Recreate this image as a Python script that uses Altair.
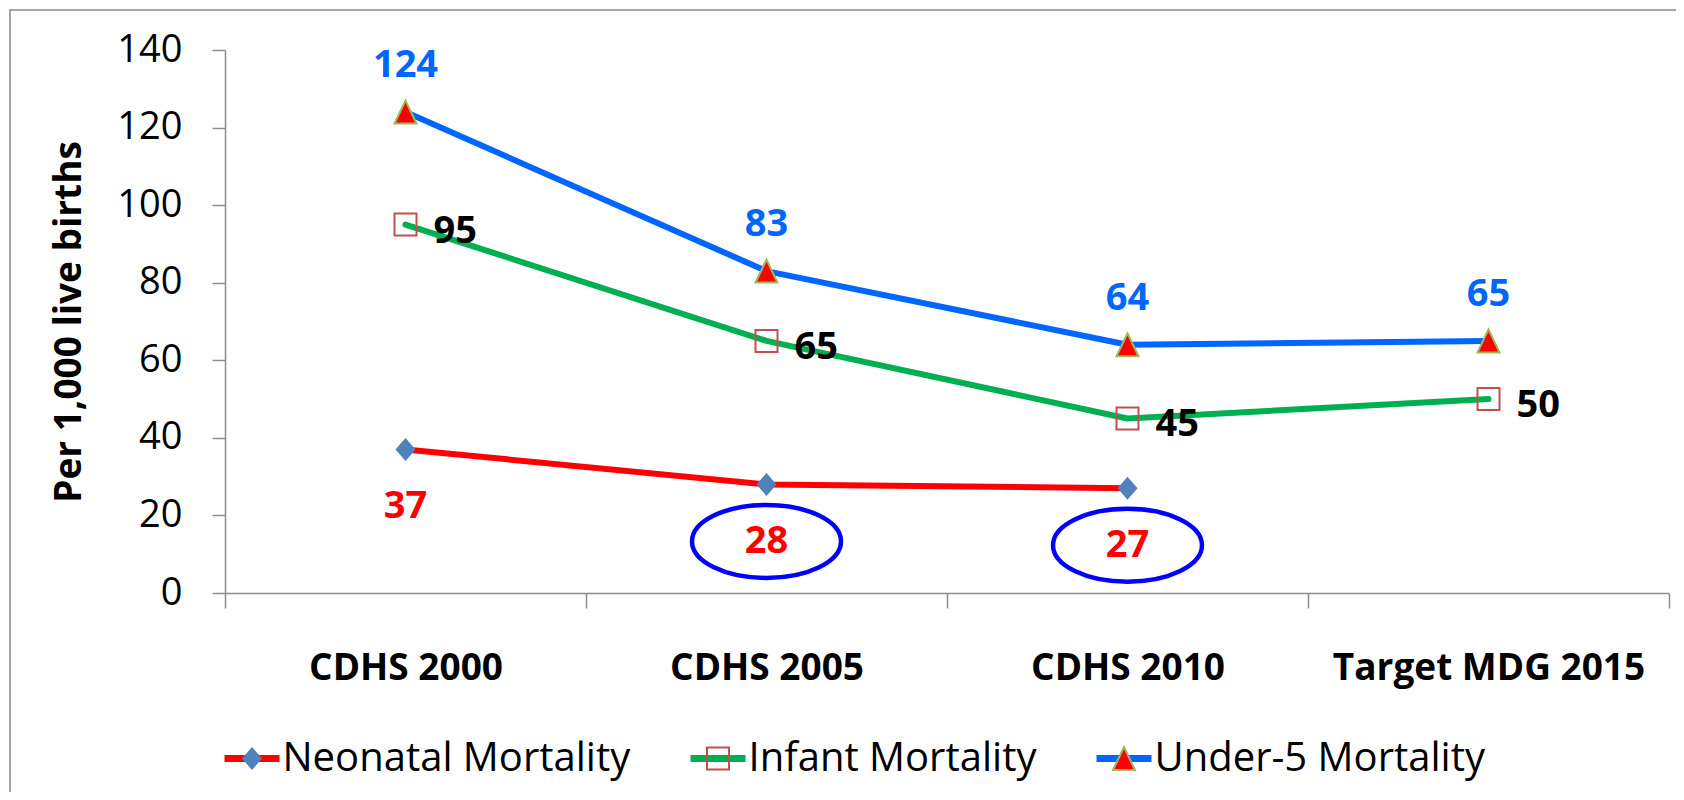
import altair as alt
import pandas as pd

surveys = ["CDHS 2000", "CDHS 2005", "CDHS 2010", "Target MDG 2015"]
series_names = ["Neonatal Mortality", "Infant Mortality", "Under-5 Mortality"]
neonatal = [37, 28, 27, None]
infant = [95, 65, 45, 50]
under5 = [124, 83, 64, 65]
highlighted = ["CDHS 2005", "CDHS 2010"]
y_ticks = [0, 20, 40, 60, 80, 100, 120, 140]

line_colors = ["#FF0000", "#00B050", "#0066FF"]
marker_fill = ["#4F81BD", "transparent", "#FF0000"]
marker_stroke = ["transparent", "#C0504D", "#9BBB59"]

# every symbol path shares the same invisible bounding box so both legends lay out identically
BOX = "M-1,-1M1,1"
marker_paths = [
    BOX + "M0,-0.418L0.364,0L0,0.418L-0.364,0Z",
    BOX + "M-0.4,-0.4H0.4V0.4H-0.4Z",
    BOX + "M0,-0.418L0.4,0.418L-0.4,0.418Z",
]
legend_line_path = BOX + "M-1,-0.0945H1M-1,-0.0316H1M-1,0.0316H1M-1,0.0945H1"
ellipse_path = "M-1,0A1,0.49 0 1,1 1,0A1,0.49 0 1,1 -1,0Z"

rows = []
for order, (name, vals) in enumerate(zip(series_names, [neonatal, infant, under5])):
    for s, v in zip(surveys, vals):
        if v is None:
            continue
        rows.append({"survey": s, "value": v, "series": name, "series_m": name,
                     "order": order, "hl": bool(order == 0 and s in highlighted)})
df = pd.DataFrame(rows)

FONT = "Open Sans"
GRAY = "#8C8C8C"
SYM = 3025
LEG = dict(title=None, orient="none", direction="horizontal",
           legendX=-1.5, legendY=680, padding=0,
           symbolSize=SYM, symbolStrokeWidth=2,
           labelFont=FONT, labelFontSize=40, labelColor="black",
           labelOffset=2, columnPadding=56, labelLimit=800)

x_enc = alt.X("survey:N", sort=surveys,
              scale=alt.Scale(type="band", domain=surveys, paddingInner=0, paddingOuter=0),
              axis=alt.Axis(title=None, labelFont=FONT, labelFontWeight="bold", labelFontSize=37,
                            labelColor="black", labelPadding=60, labelBaseline="middle", labelAngle=0,
                            tickBand="extent", tickSize=15, tickColor=GRAY, tickWidth=1.5,
                            domainColor=GRAY, domainWidth=1.5, grid=False, labelLimit=600))
y_enc = alt.Y("value:Q", scale=alt.Scale(domain=[0, 140], nice=False),
              axis=alt.Axis(title="Per 1,000 live births", titleFont=FONT, titleFontWeight="bold",
                            titleFontSize=37, titleColor="black", titleX=-156, titleY=271.5,
                            titleAngle=270, titleAlign="center", titleBaseline="middle",
                            values=y_ticks, labelFont=FONT, labelFontSize=38, labelColor="black",
                            labelPadding=30, tickSize=13, tickColor=GRAY, tickWidth=1.5,
                            domainColor=GRAY, domainWidth=1.5, grid=False))

base = alt.Chart(df)

frame = alt.Chart(pd.DataFrame({"frame": [0]})).mark_rect(
    fill="transparent", stroke="#A6A6A6", strokeWidth=2
).encode(x=alt.value(-215), x2=alt.value(1600), y=alt.value(-40), y2=alt.value(900))

lines = base.mark_line(strokeCap="round", strokeJoin="round").encode(
    x=x_enc, y=y_enc,
    strokeWidth=alt.value(6),
    color=alt.Color("series:N", sort=alt.EncodingSortField(field="order", op="min"),
                    scale=alt.Scale(range=line_colors),
                    legend=alt.Legend(symbolType=legend_line_path, **LEG)),
)

mleg = alt.Legend(labelOpacity=0, **LEG)
msort = alt.EncodingSortField(field="order", op="min")
points = base.mark_point(size=SYM, strokeWidth=2, opacity=1).encode(
    x=x_enc, y=y_enc,
    shape=alt.Shape("series_m:N", sort=msort, scale=alt.Scale(range=marker_paths), legend=mleg),
    fill=alt.Fill("series_m:N", sort=msort, scale=alt.Scale(range=marker_fill), legend=mleg),
    stroke=alt.Stroke("series_m:N", sort=msort, scale=alt.Scale(range=marker_stroke), legend=mleg),
)

ellipses = base.transform_filter(alt.datum.hl).mark_point(
    shape=ellipse_path, size=22201, stroke="#0000FF", strokeWidth=4.5, fill="transparent",
    opacity=1, yOffset=57
).encode(x=x_enc, y=y_enc)

txt = dict(font=FONT, fontWeight="bold", fontSize=38, baseline="middle")
lab_u5 = base.transform_filter(alt.datum.order == 2).mark_text(
    color="#0066FF", align="center", dy=-46, **txt).encode(x=x_enc, y=y_enc, text="value:Q")
lab_inf = base.transform_filter(alt.datum.order == 1).mark_text(
    color="black", align="left", dx=28, dy=7, **txt).encode(x=x_enc, y=y_enc, text="value:Q")
lab_neo = base.transform_filter(alt.datum.order == 0).mark_text(
    color="#FF0000", align="center", dy=58, **txt).encode(x=x_enc, y=y_enc, text="value:Q")

chart = alt.layer(frame, lines, points, ellipses, lab_u5, lab_inf, lab_neo).properties(
    width=1444, height=543,
    autosize=alt.AutoSizeParams(type="none"),
    padding={"left": 217, "top": 42, "right": 7, "bottom": 199},
    background="white",
).configure_view(stroke=None)

chart.save("out.html", embed_options={"renderer": "svg", "actions": False})
